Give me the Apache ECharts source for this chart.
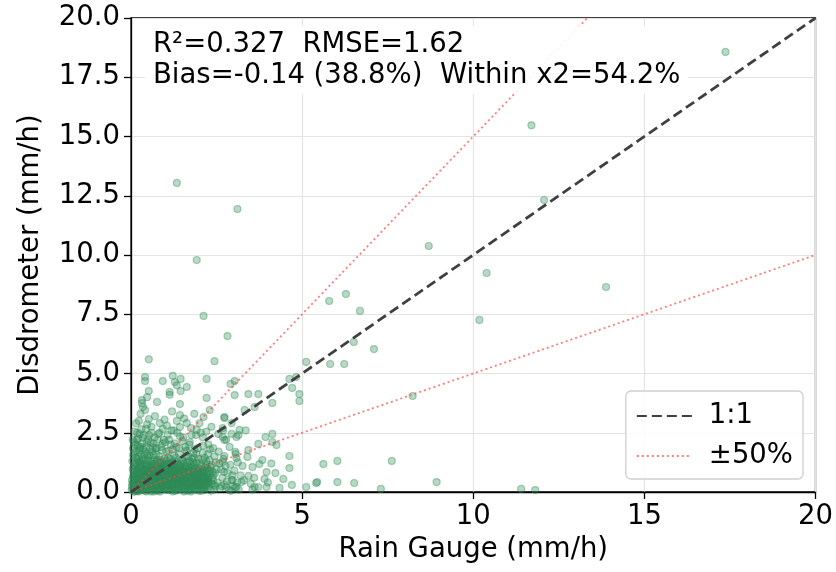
<!DOCTYPE html>
<html><head><meta charset="utf-8">
<script src="https://cdn.jsdelivr.net/npm/echarts@6/dist/echarts.min.js"></script>
<style>html,body{margin:0;padding:0;background:#fff}#c{width:836px;height:572px}</style>
</head><body><div id="c"></div>
<script>
// ---- tick values ----
const xTicks = [0, 5, 10, 15, 20];
const yTicks = [0, 2.5, 5, 7.5, 10, 12.5, 15, 17.5, 20];

// ---- annotation text ----
const statsLine1 = 'R²=0.327  RMSE=1.62';
const statsLine2 = 'Bias=-0.14 (38.8%)  Within x2=54.2%';

// ---- reference lines ----
const oneToOne = [[0, 0], [20, 20]];
const upper50 = [[0, 0], [13.333, 20]];
const lower50 = [[0, 0], [20, 10]];

// ---- scatter points [rain gauge, disdrometer] ----
const clusterA = [[0.05,0.12],[0.08,0.45],[0.1,0.9],[0.12,0.3],[0.15,1.2],[0.18,0.6],[0.2,0.05],[0.22,1.5],[0.25,0.8],[0.28,0.25],[0.3,1.05],[0.32,0.5],[0.35,1.8],[0.38,0.15],[0.4,0.7],[0.42,1.35],[0.45,0.35],[0.48,1.0],[0.06,0.65],[0.09,1.65],[0.13,2.0],[0.16,0.2],[0.19,0.95],[0.21,0.4],[0.24,1.75],[0.27,1.25],[0.31,0.1],[0.33,0.85],[0.36,0.55],[0.39,1.55],[0.41,0.2],[0.44,1.9],[0.47,0.6],[0.5,1.45],[0.07,0.3],[0.11,1.1],[0.14,0.75],[0.17,2.2],[0.23,0.02],[0.26,0.5],[0.29,1.6],[0.34,2.3],[0.37,1.15],[0.43,0.9],[0.46,2.1],[0.49,0.28]];
const clusterB = [[0.52,0.1],[0.55,0.75],[0.58,1.3],[0.6,0.4],[0.62,1.7],[0.65,0.95],[0.68,0.2],[0.7,1.2],[0.72,0.55],[0.75,1.85],[0.78,0.05],[0.8,0.85],[0.82,1.5],[0.85,0.35],[0.88,1.05],[0.9,0.65],[0.92,2.05],[0.95,0.15],[0.98,1.4],[0.53,2.4],[0.56,0.3],[0.59,1.0],[0.63,0.6],[0.66,1.55],[0.69,2.3],[0.71,0.9],[0.74,0.25],[0.77,1.35],[0.79,0.7],[0.83,2.5],[0.86,1.2],[0.89,0.45],[0.91,1.75],[0.94,0.8],[0.97,0.3],[0.54,1.55],[0.61,0.12],[0.67,0.5],[0.73,1.6],[0.81,0.2],[0.87,0.6],[0.93,1.1],[0.99,0.5],[0.57,2.1],[0.64,1.9],[0.76,1.1],[0.84,1.0],[0.96,2.2]];
const clusterC = [[1.02,0.1],[1.05,0.9],[1.08,1.45],[1.1,0.4],[1.12,2.2],[1.15,0.7],[1.18,1.15],[1.2,0.2],[1.22,1.8],[1.25,0.55],[1.28,1.3],[1.3,0.05],[1.32,0.95],[1.35,2.5],[1.38,0.35],[1.4,1.6],[1.42,0.75],[1.45,1.05],[1.48,0.15],[1.03,1.7],[1.06,0.3],[1.09,1.2],[1.13,0.6],[1.16,2.0],[1.19,0.85],[1.23,0.25],[1.26,1.55],[1.29,0.65],[1.33,1.9],[1.36,0.45],[1.39,1.0],[1.43,2.35],[1.46,0.5],[1.49,1.35],[1.04,0.55],[1.11,1.0],[1.17,0.1],[1.24,1.1],[1.31,0.4],[1.37,0.8],[1.44,0.25],[1.07,2.4],[1.21,0.5],[1.34,1.25],[1.47,0.9],[1.14,1.4]];
const clusterD = [[1.52,0.6],[1.55,1.2],[1.58,0.1],[1.6,0.85],[1.63,1.7],[1.66,0.35],[1.69,1.05],[1.72,2.1],[1.75,0.5],[1.78,1.4],[1.8,0.2],[1.83,0.95],[1.86,1.8],[1.89,0.4],[1.92,1.25],[1.95,0.7],[1.98,0.05],[1.53,2.3],[1.57,0.45],[1.61,1.5],[1.65,0.15],[1.68,0.75],[1.71,1.3],[1.74,0.3],[1.77,2.4],[1.81,0.65],[1.85,1.1],[1.88,0.1],[1.91,1.6],[1.94,0.45],[1.97,1.0],[1.54,0.95],[1.62,0.4],[1.7,0.6],[1.79,1.05],[1.87,0.55],[1.96,0.25],[1.59,1.9],[1.84,1.45],[1.99,0.85]];
const clusterE = [[2.02,0.3],[2.05,1.1],[2.08,0.6],[2.1,1.65],[2.13,0.15],[2.16,0.9],[2.2,1.3],[2.23,0.45],[2.26,2.0],[2.3,0.75],[2.33,0.05],[2.36,1.15],[2.4,0.5],[2.44,1.5],[2.47,0.25],[2.5,0.95],[2.04,2.5],[2.07,0.8],[2.12,0.4],[2.15,1.45],[2.19,0.2],[2.22,1.0],[2.27,0.6],[2.31,1.8],[2.35,0.35],[2.39,0.85],[2.43,0.1],[2.48,1.25],[2.06,0.05],[2.18,0.65],[2.29,1.35],[2.41,0.7],[2.11,1.95]];
const clusterF = [[2.53,0.4],[2.56,1.7],[2.6,0.15],[2.63,0.95],[2.67,0.6],[2.7,1.4],[2.74,0.3],[2.78,2.2],[2.82,0.8],[2.86,0.1],[2.9,1.15],[2.94,0.5],[2.98,0.25],[3.02,0.9],[3.06,1.6],[3.1,0.4],[3.15,0.1],[3.2,0.7],[2.58,1.2],[2.65,0.25],[2.72,0.85],[2.8,0.45],[2.88,1.9],[2.96,0.7],[3.04,0.2],[3.12,1.25],[2.55,2.45],[2.69,2.6],[2.76,1.1],[2.92,0.05]];
const clusterH = [[0.03,0.5],[0.07,0.85],[0.1,0.18],[0.14,1.05],[0.17,0.42],[0.2,0.72],[0.23,1.3],[0.26,0.1],[0.3,0.62],[0.33,0.32],[0.37,0.95],[0.4,0.05],[0.43,0.5],[0.46,1.15],[0.5,0.22],[0.53,0.88],[0.57,0.55],[0.6,1.05],[0.63,0.28],[0.66,0.72],[0.7,0.08],[0.73,1.0],[0.76,0.42],[0.8,0.6],[0.83,1.25],[0.86,0.15],[0.9,0.98],[0.93,0.38],[0.96,0.68],[1.0,0.2],[1.03,1.1],[1.06,0.72],[1.1,0.08],[1.13,0.92],[1.16,0.45],[1.2,1.25],[1.23,0.7],[1.26,0.12],[1.3,0.58],[1.33,1.15],[1.36,0.3],[1.4,0.88],[1.43,0.52],[1.46,1.2],[1.5,0.1],[1.53,0.78],[1.56,0.3],[1.6,1.1],[1.63,0.6],[1.66,0.05],[1.7,0.95],[1.73,0.48],[1.76,1.18],[1.8,0.72],[1.83,0.25],[1.86,0.62],[1.9,0.15],[1.93,0.9],[1.96,0.55],[2.0,1.2],[2.03,0.7],[2.06,0.35],[2.1,0.9],[2.14,0.08],[2.18,0.48],[2.22,0.78],[2.26,0.22],[0.05,0.98],[0.12,0.55],[0.18,1.4],[0.24,0.35],[0.31,1.2],[0.38,0.75],[0.44,0.15],[0.51,1.32],[0.58,0.02],[0.64,0.95],[0.71,0.35],[0.78,0.82],[0.85,0.5],[0.91,0.25],[0.97,1.15],[1.04,0.35],[1.11,0.6],[1.18,0.3],[1.25,0.9],[1.32,0.2],[1.39,0.65],[1.45,0.38],[1.52,1.3],[1.58,0.62],[1.65,0.88],[1.72,0.18],[1.78,0.4],[1.85,0.82],[1.92,0.42],[1.98,0.68],[2.08,0.2],[2.16,1.05],[2.24,0.55]];
const clusterK = [[0.02,0.08],[0.04,1.3],[0.06,1.85],[0.09,0.62],[0.11,0.02],[0.13,1.45],[0.16,0.88],[0.19,0.3],[0.22,1.02],[0.25,0.58],[0.27,1.9],[0.29,0.4],[0.34,0.72],[0.36,1.32],[0.39,0.48],[0.42,1.05],[0.45,0.78],[0.48,1.62],[0.51,0.65],[0.55,1.12],[0.59,0.22],[0.62,0.82],[0.65,1.35],[0.69,0.6],[0.72,0.3],[0.75,1.02],[0.79,0.12],[0.82,0.7],[0.87,1.35],[0.9,0.32],[0.94,1.22],[0.98,0.9],[1.01,0.62],[1.05,1.32],[1.08,0.18],[1.12,0.78],[1.15,1.2],[1.19,0.55],[1.22,0.02],[1.27,0.82],[1.31,1.45],[1.35,0.62],[1.38,0.12],[1.42,1.1],[1.47,0.7],[1.51,0.4],[1.55,0.02],[1.59,1.0],[1.64,0.28],[1.68,1.5],[1.73,0.7],[1.77,0.1],[1.82,1.25],[1.88,0.75],[1.93,0.3],[1.97,1.4],[2.01,0.5],[2.05,0.85],[2.09,1.35],[2.13,0.62],[2.17,0.3],[2.21,1.15],[2.25,0.95],[2.28,0.4],[2.32,1.05],[2.37,0.6],[2.42,0.3],[2.46,0.8]];
const clusterM = [[0.04,0.35],[0.08,0.72],[0.12,1.22],[0.15,0.05],[0.19,0.52],[0.22,0.85],[0.26,1.12],[0.29,0.18],[0.32,1.42],[0.35,0.28],[0.39,0.9],[0.42,0.62],[0.45,0.02],[0.49,0.8],[0.52,1.05],[0.56,0.42],[0.6,0.65],[0.64,1.18],[0.67,0.02],[0.71,0.68],[0.74,1.3],[0.78,0.32],[0.81,0.95],[0.85,0.02],[0.88,0.78],[0.92,0.55],[0.95,1.02],[0.99,0.12],[1.02,0.78],[1.06,0.48],[1.09,0.95],[1.13,0.25],[1.17,0.62],[1.21,0.95],[1.24,0.4],[1.28,0.15],[1.31,0.75],[1.35,1.05],[1.38,0.52],[1.41,0.3],[1.45,0.85],[1.49,0.55],[1.53,0.2],[1.57,0.88],[1.61,0.48],[1.64,1.25],[1.68,0.25],[1.72,0.85],[1.75,0.02],[1.79,0.58],[1.83,0.45],[1.87,1.0],[1.91,0.3],[1.95,0.82],[1.99,0.4],[2.03,0.12],[2.07,0.95],[2.11,0.55],[2.15,0.25],[2.2,0.62],[2.25,0.38],[2.3,0.9],
  [0.06,1.55],[0.1,2.1],[0.14,1.7],[0.18,2.5],[0.21,2.25],[0.26,1.85],[0.3,2.65],[0.34,2.05],[0.38,2.4],[0.42,1.7],[0.47,2.85],[0.5,2.2],[0.55,1.8],[0.6,2.5],[0.66,2.05],[0.72,1.85],[0.78,2.2],[0.88,1.9],[1.0,2.1],[1.1,1.75],[1.18,2.6],[1.28,2.05],[1.4,1.85],[1.5,2.15],[1.6,1.75],[1.7,2.0],[1.82,1.65],[1.95,1.85],[2.1,2.3],[2.25,1.6],[2.4,1.85],
  [0.03,0.25],[0.09,0.02],[0.16,0.65],[0.23,0.48],[0.3,0.85],[0.36,0.12],[0.43,0.3],[0.5,0.6],[0.57,0.78],[0.63,0.45],[0.69,0.9],[0.76,0.62],[0.82,0.42],[0.89,0.2],[0.95,0.5],[1.02,0.95],[1.09,0.58],[1.16,0.82],[1.22,0.32],[1.29,0.92],[1.36,0.08],[1.43,0.68],[1.5,0.45],[1.57,0.15],[1.64,0.72],[1.71,0.38],[1.78,0.9],[1.85,0.15],[1.92,0.62],[2.0,0.28],[2.09,0.75],[2.19,0.35]];
const midBand = [[0.1,2.55],[0.15,2.9],[0.28,3.3],[0.6,2.75],[0.7,3.2],[0.98,3.05],[1.05,2.8],[1.2,3.4],[1.55,3.1],[1.75,2.7],[1.85,3.3],[2.0,2.9],[2.35,2.75],[0.25,2.45],[0.8,2.45],[1.25,2.6],[1.9,2.4],[2.2,2.55],[0.05,2.2],[0.2,1.95],
  [0.52,5.6],[2.44,5.52],[0.41,4.85],[0.41,4.68],[0.93,4.68],[1.22,4.9],[1.28,4.64],[1.34,4.5],[1.45,4.77],[2.21,4.77],[1.63,4.43],[0.52,4.26],[1.13,4.22],[1.13,4.1],[1.45,4.26],[0.76,3.8],[0.32,3.88],[0.32,3.75],[0.35,3.59],[0.47,4.0],[1.43,3.71],[2.21,3.97],[0.41,3.46],
  [2.91,4.56],[3.03,4.68],[3.03,4.09],[3.43,4.13],[3.72,4.13],[4.13,3.76],[3.32,3.46],[3.61,3.59],[4.63,4.77],[4.83,4.85],[4.71,4.39],[4.92,4.13],[4.92,3.84],[2.3,3.46],[1.43,3.25],[1.34,3.0],[0.23,3.0],[0.52,3.08],[0.84,2.91],[1.63,2.91],[1.43,2.74],[0.44,2.66],[0.93,2.66],[1.92,2.62],[2.12,3.16],[2.73,3.16]];
const rightBand = [[2.73,3.12],[2.94,2.91],[2.68,2.7],[3.08,2.32],[2.94,2.45],[2.68,2.32],[2.73,2.19],[3.93,2.32],[4.13,2.45],[4.13,2.11],[3.72,2.03],[3.43,1.77],[3.4,1.48],[3.05,1.69],[3.08,1.43],[2.73,1.52],[2.68,1.27],[4.63,1.52],[3.84,1.35],[3.75,1.18],[3.55,1.05],[3.26,1.1],[4.63,1.01],[3.96,0.84],[4.22,0.8],[3.43,0.68],[3.61,0.21],[3.72,0.21],[3.96,0.21],[4.34,0.17],[3.35,2.6],[3.14,2.4],[3.17,2.62],[4.25,1.98],[3.3,0.5],[3.5,0.35],[3.6,0.6],[4.0,0.4],[4.1,1.2],[3.55,0.1],[3.9,0.55],[4.45,0.55],[4.7,0.3],[2.97,0.51],[3.23,0.42],[2.79,0.21],[3.08,0.21]];
const outliers = [[1.34,13.04],[3.11,11.94],[1.92,9.79],[2.12,7.43],[2.82,6.58],[17.37,18.57],[11.7,15.47],[12.07,12.32],[8.7,10.38],[10.39,9.24],[13.88,8.65],[10.18,7.26],[6.28,8.35],[5.79,8.06],[6.69,7.64],[6.51,6.33],[7.1,6.03],[5.12,5.49],[5.82,5.4],[6.23,5.4],[8.23,4.05],[5.62,1.18],[6.03,1.31],[7.62,1.31],[5.12,0.21],[5.41,0.38],[5.44,0.42],[6.03,0.42],[6.52,0.38],[7.3,0.13],[8.93,0.42],[11.4,0.13],[11.81,0.08]];

const points = [].concat(clusterA, clusterB, clusterC, clusterD, clusterE, clusterF, clusterH, clusterK, clusterM, midBand, rightBand, outliers);

const FONT = 'DejaVu Sans';
const FS = 27.5;
const chart = echarts.init(document.getElementById('c'), null, {renderer: 'canvas'});
const axisCommon = {
  type: 'value', min: 0, max: 20,
  nameLocation: 'middle',
  nameTextStyle: {fontSize: FS, color: '#000', fontFamily: FONT},
  axisLine: {show: true, onZero: false, lineStyle: {color: '#000', width: 1.3}},
  axisTick: {show: true, inside: false, length: 7, lineStyle: {color: '#000', width: 1.3}},
  splitLine: {show: true, lineStyle: {color: '#e3e3e3', width: 1.2}},
  axisLabel: {fontSize: FS, color: '#000', fontFamily: FONT}
};
const dashColor = '#404040';
const redColor = 'rgba(255,70,70,0.7)';
chart.setOption({
  animation: false,
  backgroundColor: '#fff',
  textStyle: {fontFamily: FONT},
  grid: {left: 131, right: 18, top: 18, bottom: 80, show: true, borderColor: '#000', borderWidth: 1.3, backgroundColor: 'transparent'},
  title: {
    text: statsLine1 + '\n' + statsLine2,
    left: 145, top: 26,
    padding: [3, 8],
    backgroundColor: 'rgba(255,255,255,0.9)',
    textStyle: {fontSize: FS, fontWeight: 'normal', color: '#000', lineHeight: 31, fontFamily: FONT},
    z: 20
  },
  legend: {
    orient: 'vertical', right: 33, bottom: 93,
    data: ['1:1', '±50%'],
    itemWidth: 55, itemHeight: 14, itemGap: 12,
    padding: [11, 10, 9, 10],
    itemStyle: {opacity: 0},
    backgroundColor: 'rgba(255,255,255,0.85)',
    borderColor: '#d0d0d0', borderWidth: 1.3, borderRadius: 5,
    textStyle: {fontSize: FS, color: '#000', fontFamily: FONT, padding: [0, 0, 0, 12]},
    z: 20
  },
  xAxis: Object.assign({}, axisCommon, {
    interval: xTicks[1] - xTicks[0],
    name: 'Rain Gauge (mm/h)', nameGap: 42,
    axisLabel: Object.assign({}, axisCommon.axisLabel, {margin: 11})
  }),
  yAxis: Object.assign({}, axisCommon, {
    interval: yTicks[1] - yTicks[0],
    name: 'Disdrometer (mm/h)', nameGap: 86, nameRotate: 90,
    axisLabel: Object.assign({}, axisCommon.axisLabel, {margin: 11, formatter: v => v.toFixed(1)})
  }),
  series: [
    {
      type: 'scatter', name: 'points', data: points,
      symbol: 'circle', symbolSize: 7, clip: true,
      itemStyle: {color: 'rgba(46,139,87,0.42)', borderColor: 'rgba(46,139,87,0.5)', borderWidth: 1.2},
      z: 2
    },
    {
      type: 'line', name: '1:1', data: oneToOne, symbol: 'none', silent: true, color: dashColor,
      itemStyle: {color: dashColor},
      lineStyle: {color: dashColor, width: 2.8, type: [10, 5]}, z: 5
    },
    {
      type: 'line', name: '±50%', data: upper50, symbol: 'none', silent: true, color: redColor,
      itemStyle: {color: redColor},
      lineStyle: {color: redColor, width: 1.8, type: [2, 3]}, z: 4
    },
    {
      type: 'line', name: '±50%', data: lower50, symbol: 'none', silent: true, color: redColor,
      itemStyle: {color: redColor},
      lineStyle: {color: redColor, width: 1.8, type: [2, 3]}, z: 4
    }
  ]
});
</script></body></html>
